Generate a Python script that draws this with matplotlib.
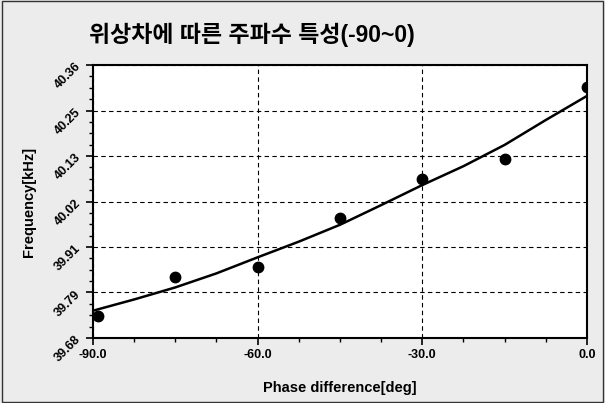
import numpy as np
import matplotlib
matplotlib.use('Agg')
import matplotlib.pyplot as plt
from matplotlib.ticker import FixedLocator, MultipleLocator
from matplotlib.patches import Rectangle

plt.rcParams['font.family'] = ['Liberation Sans', 'Noto Sans CJK KR', 'DejaVu Sans']
plt.rcParams['font.weight'] = 'bold'

# measured points
phase = [-89, -75, -60, -45, -30, -15, 0]
freq = [39.735, 39.831, 39.856, 39.978, 40.075, 40.125, 40.304]
# fitted curve
fit_phase = [-90, -82.5, -75, -67.5, -60, -52.5, -45, -37.5, -30, -22.5, -15, -7.5, 0]
fit_freq = [39.748, 39.776, 39.806, 39.841, 39.881, 39.920, 39.962,
            40.011, 40.061, 40.108, 40.161, 40.223, 40.283]

title = '위상차에 따른 주파수 특성(-90~0)'
ymin, ymax = 39.68, 40.36
yticks = np.linspace(ymin, ymax, 7)
xticks = [-90, -60, -30, 0]

fig = plt.figure(figsize=(6.05, 4.03), dpi=100)
fig.patch.set_facecolor('#ececec')
fig.patches.append(Rectangle((0.003, 0.003), 0.994, 0.994, transform=fig.transFigure,
                             fill=False, edgecolor='#333333', linewidth=1.0))
ax = fig.add_axes([0.1537, 0.1613, 0.8165, 0.6774])
ax.set_facecolor('white')

ax.plot(fit_phase, fit_freq, color='black', linewidth=1.8, zorder=3)
ax.plot(phase, freq, 'o', color='black', markersize=7.5, zorder=4)

ax.set_xlim(-90, 0)
ax.set_ylim(ymin, ymax)
ax.xaxis.set_major_locator(FixedLocator(xticks))
ax.xaxis.set_minor_locator(MultipleLocator(7.5))
ax.yaxis.set_major_locator(FixedLocator(yticks))
ax.yaxis.set_minor_locator(FixedLocator(np.linspace(ymin, ymax, 25)))
ax.set_xticklabels(['%.1f' % v for v in xticks], fontsize=9, fontweight='bold')
ax.set_yticklabels(['%.2f' % v for v in yticks], fontsize=9, fontweight='bold',
                   rotation=45, rotation_mode='anchor', ha='right', va='center')
ax.tick_params(which='major', direction='out', length=5, width=1.2, colors='black')
ax.tick_params(which='minor', direction='out', length=3, width=1.0, colors='black')
ax.tick_params(axis='y', pad=5)
ax.tick_params(axis='x', pad=3)

ax.grid(True, which='major', linestyle=(0, (4, 3)), color='black', linewidth=0.8)
for s in ax.spines.values():
    s.set_linewidth(1.5)
    s.set_color('black')

ax.set_xlabel('Phase difference[deg]', fontsize=10.5, fontweight='bold', labelpad=14)
ax.set_ylabel('Frequency[kHz]', fontsize=10.5, fontweight='bold', labelpad=12)
fig.text(0.417, 0.913, title, fontsize=16.5, fontweight='bold', ha='center', va='center')

fig.savefig('out.png', dpi=100, facecolor=fig.get_facecolor())
